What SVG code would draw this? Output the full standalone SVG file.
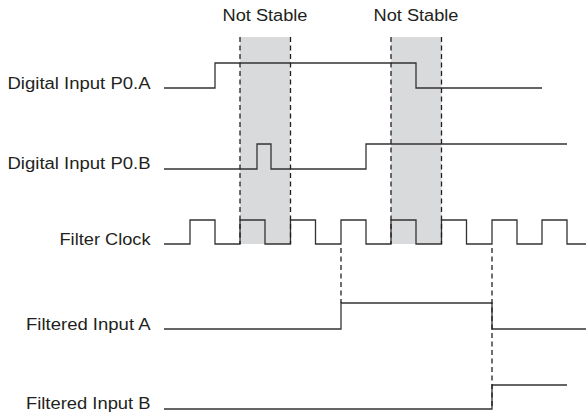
<svg xmlns="http://www.w3.org/2000/svg" width="586" height="414" viewBox="0 0 586 414">
<style>
.lbl{font-family:"Liberation Sans",Arial,Helvetica,sans-serif;font-size:16px;fill:#231f20}
.sig{fill:none;stroke:#333;stroke-width:1.3;stroke-linejoin:miter}
.dash{fill:none;stroke:#231f20;stroke-width:1.3;stroke-dasharray:5 3.5}
.shade{fill:#d9dadc;stroke:none}
</style>
<rect width="586" height="414" fill="#fff"/>
<g id="shading">
<rect class="shade" x="240" y="37" width="50" height="207"/>
<rect class="shade" x="391" y="37" width="50.5" height="207"/>
</g>
<g id="labels">
<text class="lbl" x="265" y="21" text-anchor="middle" textLength="85" lengthAdjust="spacingAndGlyphs">Not Stable</text>
<text class="lbl" x="416" y="21" text-anchor="middle" textLength="85" lengthAdjust="spacingAndGlyphs">Not Stable</text>
</g>
<g id="sigA">
<text class="lbl" x="7.5" y="88.5" textLength="143" lengthAdjust="spacingAndGlyphs">Digital Input P0.A</text>
<path class="sig" d="M164 88H215V63H416V88H542"/>
</g>
<g id="sigB">
<text class="lbl" x="7.5" y="168.5" textLength="143" lengthAdjust="spacingAndGlyphs">Digital Input P0.B</text>
<path class="sig" d="M164 169H257V144H271V169H366V144H567"/>
</g>
<g id="clock">
<text class="lbl" x="59.5" y="244.5" textLength="91" lengthAdjust="spacingAndGlyphs">Filter Clock</text>
<path class="sig" d="M164 244H190V220H215V244H240V220H265V244H290.5V220H315.5V244H341V220H366V244H391V220H416V244H441.5V220H466.5V244H492V220H517V244H542V220H567V244H586"/>
</g>
<g id="filtA">
<text class="lbl" x="26" y="329.5" textLength="124.5" lengthAdjust="spacingAndGlyphs">Filtered Input A</text>
<path class="sig" d="M164 329H341V303H492V329H586"/>
</g>
<g id="filtB">
<text class="lbl" x="26" y="408.5" textLength="124.5" lengthAdjust="spacingAndGlyphs">Filtered Input B</text>
<path class="sig" d="M164 409H492V385H567"/>
</g>
<g id="connectors">
<path class="dash" d="M240 37V244"/>
<path class="dash" d="M290.5 37V244"/>
<path class="dash" d="M391 37V244"/>
<path class="dash" d="M441.5 37V244"/>
<path class="dash" d="M341 248V303"/>
<path class="dash" d="M492 248V409"/>
</g>
</svg>
